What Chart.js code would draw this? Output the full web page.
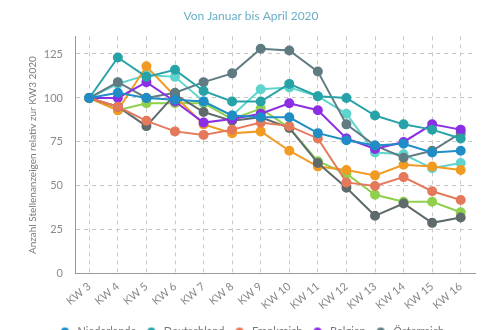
<!DOCTYPE html>
<html>
<head>
<meta charset="utf-8">
<script src="https://cdn.jsdelivr.net/npm/chart.js@4/dist/chart.umd.min.js"></script>
<style>
	body { margin: 0; background: #fff; overflow: hidden; }
	#wrap { width: 500px; height: 366px; }
</style>
</head>
<body>
<div id="wrap"><canvas id="chart"></canvas></div>
<script>
const weeks = ["KW 3", "KW 4", "KW 5", "KW 6", "KW 7", "KW 8", "KW 9", "KW 10", "KW 11", "KW 12", "KW 13", "KW 14", "KW 15", "KW 16"];

const niederlande = [100, 103, 100, 99, 98, 90, 89, 89, 80, 76, 73, 74, 69, 70];
const deutschland = [100, 123, 112, 116, 104, 98, 98, 108, 101, 100, 90, 85, 82, 77];
const frankreich = [100, 95, 87, 81, 79, 82, 86, 84, 77, 52, 50, 55, 47, 42];
const belgien = [100, 100, 109, 98, 86, 88, 91, 97, 93, 77, 71, 75, 85, 82];
const oesterreich = [100, 109, 100, 103, 109, 114, 128, 127, 115, 85, 73, 66, 70, 80];
const spanien = [100, 93, 118, 101, 85, 80, 81, 70, 61, 59, 56, 62, 61, 59];
const schweiz = [100, 108, 113, 112, 98, 90, 105, 106, 101, 91, 69, 68, 60, 63];
const italien = [100, 93, 97, 97, 97, 88, 94, 83, 64, 57, 45, 41, 41, 35];
const grossbritannien = [100, 95, 84, 102, 92, 87, 89, 83, 63, 49, 33, 40, 29, 32];

const yTicks = [0, 25, 50, 75, 100, 125];

const series = [
	["Niederlande", niederlande, "#1f8dc6"],
	["Deutschland", deutschland, "#27a3a8"],
	["Frankreich", frankreich, "#e4795b"],
	["Belgien", belgien, "#8b2ee4"],
	["Österreich", oesterreich, "#607c82"],
	["Vereinigtes Königreich", grossbritannien, "#5f6a6c"],
	["Spanien", spanien, "#f29b22"],
	["Schweiz", schweiz, "#5ed4cc"],
	["Italien", italien, "#8fd04c"],
];

// small line-with-dot icon for the legend
function legendIcon(color) {
	let c = document.createElement("canvas");
	c.width = 14;
	c.height = 10;
	let ctx = c.getContext("2d");
	ctx.strokeStyle = color;
	ctx.lineWidth = 2;
	ctx.beginPath();
	ctx.moveTo(0, 5);
	ctx.lineTo(14, 5);
	ctx.stroke();
	ctx.fillStyle = color;
	ctx.beginPath();
	ctx.arc(7, 5, 4, 0, Math.PI * 2);
	ctx.fill();
	return c;
}

const icons = series.map((s) => legendIcon(s[2]));

const datasets = series.map(([name, values, color]) => ({
	label: name,
	data: values,
	borderColor: color,
	backgroundColor: color,
	borderWidth: 2,
	pointRadius: 4,
	pointHoverRadius: 5,
	tension: 0,
}));

const font = "Lato, 'Open Sans', sans-serif";
const gridColor = "#c8c8c8";

const config = {
	type: "line",
	data: { labels: weeks, datasets: datasets },
	options: {
		responsive: true,
		maintainAspectRatio: false,
		animation: false,
		layout: { padding: { left: 27, right: 25, top: 0, bottom: 0 } },
		scales: {
			x: {
				offset: true,
				grid: { color: gridColor, drawTicks: false },
				border: { display: true, color: "#9a9a9a", dash: [4, 4] },
				ticks: {
					color: "#888",
					font: { family: font, size: 11 },
					minRotation: 40,
					maxRotation: 40,
					padding: 6,
				},
			},
			y: {
				min: 0,
				max: 135,
				afterBuildTicks: (scale) => {
					scale.ticks = yTicks.map((v) => ({ value: v }));
				},
				afterFit: (scale) => {
					scale.width = 48;
				},
				grid: { color: gridColor, drawTicks: false },
				border: { display: true, color: "#9a9a9a", dash: [4, 4] },
				ticks: {
					color: "#888",
					font: { family: font, size: 11 },
					padding: 12,
				},
				title: {
					display: true,
					text: "Anzahl Stellenanzeigen relativ zur KW3 2020",
					color: "#7a7a7a",
					font: { family: font, size: 10 },
					padding: 0,
				},
			},
		},
		plugins: {
			title: {
				display: true,
				text: "Von Januar bis April 2020",
				color: "#6aaec6",
				font: { family: font, size: 12, weight: "normal" },
				padding: { top: 9, bottom: 13 },
			},
			legend: {
				position: "bottom",
				labels: {
					usePointStyle: true,
					pointStyleWidth: 14,
					color: "#777",
					font: { family: font, size: 11 },
					padding: 8,
					generateLabels: (chart) => {
						let items = Chart.defaults.plugins.legend.labels.generateLabels(chart);
						items.forEach((it) => (it.pointStyle = icons[it.datasetIndex]));
						return items;
					},
				},
			},
			tooltip: { enabled: false },
		},
	},
};

const chart = new Chart(document.getElementById("chart"), config);
</script>
</body>
</html>
